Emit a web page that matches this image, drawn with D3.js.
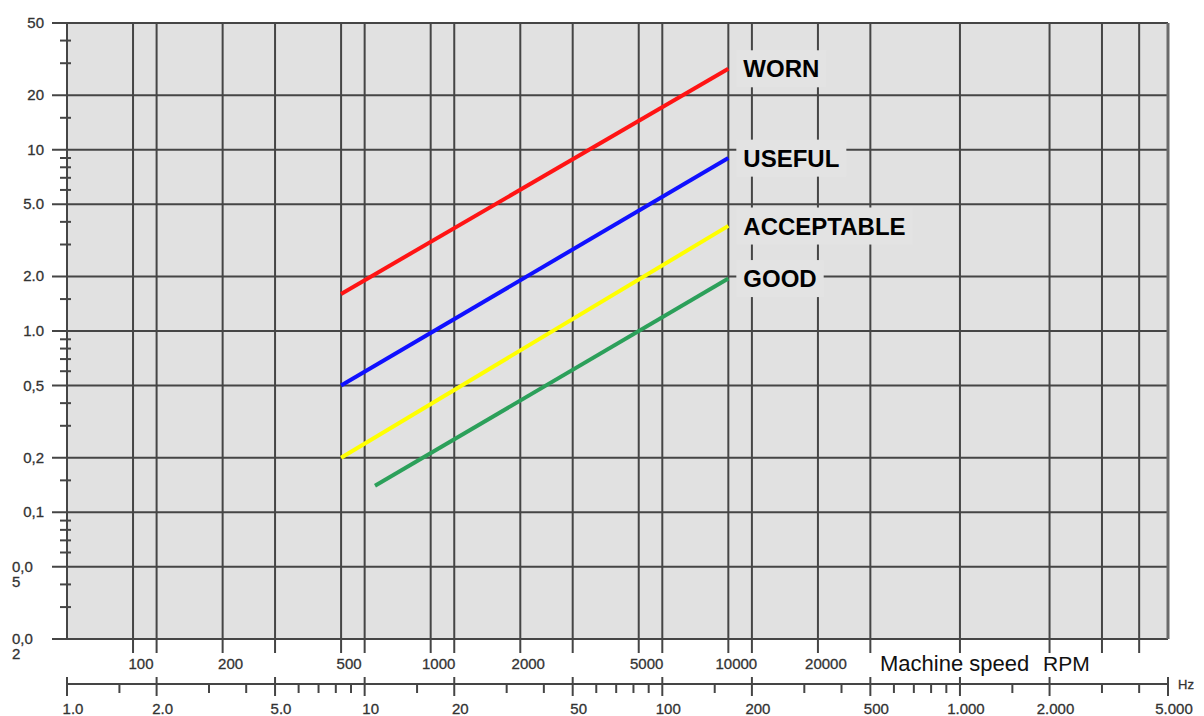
<!DOCTYPE html>
<html>
<head>
<meta charset="utf-8">
<script src="https://cdn.jsdelivr.net/npm/d3@7"></script>
<style>
  body { margin: 0; background: #fff; }
  svg { display: block; font-family: "Liberation Sans", Arial, sans-serif; }
  .grid { stroke: #454545; stroke-width: 2; fill: none; }
  .tickLabel { fill: #333; font-size: 15px; stroke: #333; stroke-width: 0.3px; }
  .minor { stroke: #454545; stroke-width: 2; }
</style>
</head>
<body>
<div id="chartContainer"></div>
<script>

// frequency axis (Hz)
var hzTicks = [1, 2, 5, 10, 20, 50, 100, 200, 500, 1000, 2000, 5000]
var hzTickLabels = ['1.0', '2.0', '5.0', '10', '20', '50', '100', '200', '500', '1.000', '2.000', '5.000']
var hzMinor = [1.5, 3, 4, 6, 7, 8, 9, 15, 30, 40, 60, 70, 80, 90, 150, 300, 400, 600, 700, 800, 900, 1500, 3000, 4000]
var hzExtraGrid = [3000, 4000]

// machine speed axis (RPM)
var rpmTicks = [100, 200, 500, 1000, 2000, 5000, 10000, 20000]

// vibration axis
var yTicks = [0.02, 0.05, 0.1, 0.2, 0.5, 1, 2, 5, 10, 20, 50]
var yTickLabels = [['0,0', '2'], ['0,0', '5'], ['0,1'], ['0,2'], ['0,5'], ['1.0'], ['2.0'], ['5.0'], ['10'], ['20'], ['50']]
var yMinor = [0.03, 0.04, 0.06, 0.07, 0.08, 0.09, 0.15, 0.3, 0.4, 0.6, 0.7, 0.8, 0.9, 1.5, 3, 4, 6, 7, 8, 9, 15, 30, 40]

// severity lines: [start, end] in RPM and value
var seriesNames = ['WORN', 'USEFUL', 'ACCEPTABLE', 'GOOD']
var seriesRpm = [[500, 10000], [500, 10000], [500, 10000], [650, 10000]]
var wornValues = [1.6, 28]
var usefulValues = [0.5, 9]
var acceptableValues = [0.2, 3.8]
var goodValues = [0.14, 1.95]
var seriesColors = ['#ff1414', '#1010ff', '#ffff00', '#2ca05a']

var seriesValues = [wornValues, usefulValues, acceptableValues, goodValues]

renderChart()

function renderChart() {
    var width = 1204, height = 716
    var plotLeft = 67, plotRight = 1168, plotTop = 23, plotBottom = 639

    var svg = d3.select('#chartContainer').append('svg')
        .attr('width', width)
        .attr('height', height)

    var xScale = d3.scaleLog()
        .domain([1, 5000])
        .range([plotLeft, plotRight])

    var yScale = d3.scaleLog()
        .domain([0.02, 50])
        .range([plotBottom, plotTop])

    function xRpm(r) { return xScale(r / 60) }

    // plot background
    svg.append('rect')
        .attr('x', plotLeft).attr('y', plotTop)
        .attr('width', plotRight - plotLeft).attr('height', plotBottom - plotTop)
        .attr('fill', '#e1e1e1')

    var gridG = svg.append('g')

    // horizontal grid, running out to the left as major ticks
    gridG.selectAll('.hgrid')
        .data(yTicks)
        .enter().append('line')
        .attr('class', 'grid')
        .attr('x1', plotLeft - 15).attr('x2', plotRight)
        .attr('y1', function(d) { return yScale(d) })
        .attr('y2', function(d) { return yScale(d) })

    // vertical grid on Hz and RPM values, running down as ticks
    var vgrid = hzTicks.slice(1, -1).concat(hzExtraGrid).concat(rpmTicks.map(function(r) { return r / 60 }))
    gridG.selectAll('.vgrid')
        .data(vgrid)
        .enter().append('line')
        .attr('class', 'grid')
        .attr('x1', function(d) { return xScale(d) })
        .attr('x2', function(d) { return xScale(d) })
        .attr('y1', plotTop).attr('y2', plotBottom + 14)

    // border
    gridG.append('line').attr('class', 'grid')
        .attr('x1', plotLeft).attr('x2', plotLeft).attr('y1', plotTop).attr('y2', plotBottom)
    gridG.append('line').attr('class', 'grid')
        .attr('x1', plotRight).attr('x2', plotRight).attr('y1', plotTop).attr('y2', plotBottom)
        .style('stroke', '#6a6a6a').style('stroke-width', 3)

    // y minor ticks
    gridG.selectAll('.yminor')
        .data(yMinor)
        .enter().append('line')
        .attr('class', 'minor')
        .attr('x1', plotLeft - 7).attr('x2', plotLeft + 4)
        .attr('y1', function(d) { return yScale(d) })
        .attr('y2', function(d) { return yScale(d) })

    // y labels
    var yLab = svg.append('g').selectAll('.ylab')
        .data(yTicks)
        .enter().append('text')
        .attr('class', 'tickLabel')
        .attr('y', function(d) { return yScale(d) + 5 })
    yLab.each(function(d, i) {
        var lines = yTickLabels[i]
        var t = d3.select(this)
        if (lines.length == 1) {
            t.attr('x', 44).attr('text-anchor', 'end').text(lines[0])
        } else {
            t.attr('text-anchor', 'start')
            lines.forEach(function(s, k) {
                t.append('tspan').attr('x', 12).attr('dy', k == 0 ? 0 : 15).text(s)
            })
        }
    })

    // RPM labels
    svg.append('g').selectAll('.rpmlab')
        .data(rpmTicks)
        .enter().append('text')
        .attr('class', 'tickLabel')
        .attr('text-anchor', 'middle')
        .attr('x', function(d) { return xRpm(d) + 8 })
        .attr('y', 669)
        .text(function(d) { return d })

    svg.append('text')
        .attr('x', 880).attr('y', 671)
        .style('font-size', '22px').style('fill', '#111')
        .text('Machine speed')
    svg.append('text')
        .attr('x', 1043).attr('y', 671)
        .style('font-size', '21px').style('fill', '#111')
        .text('RPM')

    // Hz axis
    var hzY = 684
    var hzG = svg.append('g')
    hzG.append('line').attr('class', 'grid')
        .attr('x1', plotLeft).attr('x2', plotRight).attr('y1', hzY).attr('y2', hzY)
    hzG.selectAll('.hzmajor')
        .data(hzTicks)
        .enter().append('line')
        .attr('class', 'minor')
        .attr('x1', function(d) { return xScale(d) })
        .attr('x2', function(d) { return xScale(d) })
        .attr('y1', hzY - 7).attr('y2', hzY + 12)
    hzG.selectAll('.hzminor')
        .data(hzMinor)
        .enter().append('line')
        .attr('class', 'minor')
        .attr('x1', function(d) { return xScale(d) })
        .attr('x2', function(d) { return xScale(d) })
        .attr('y1', hzY).attr('y2', hzY + 9)
    hzG.selectAll('.hzlab')
        .data(hzTicks)
        .enter().append('text')
        .attr('class', 'tickLabel')
        .attr('text-anchor', 'middle')
        .attr('x', function(d, i) { return xScale(d) + 6 })
        .attr('y', 714)
        .text(function(d, i) { return hzTickLabels[i] })
    hzG.append('text')
        .attr('class', 'tickLabel')
        .style('font-size', '13px')
        .attr('x', 1178).attr('y', 689)
        .text('Hz')

    // severity lines
    var line = d3.line()
        .x(function(d) { return xRpm(d[0]) })
        .y(function(d) { return yScale(d[1]) })

    var lineG = svg.append('g')
    seriesNames.forEach(function(name, i) {
        var pts = seriesRpm[i].map(function(r, k) { return [r, seriesValues[i][k]] })
        lineG.append('path')
            .attr('d', line(pts))
            .attr('fill', 'none')
            .attr('stroke', seriesColors[i])
            .attr('stroke-width', 4)

        var end = pts[pts.length - 1]
        var lg = svg.append('g')
        var bg = lg.append('rect')
        var t = lg.append('text')
            .attr('x', xRpm(end[0]) + 15)
            .attr('y', yScale(end[1]))
            .attr('dy', '0.36em')
            .style('font-size', '24px')
            .style('font-weight', 'bold')
            .style('fill', '#000')
            .text(name)
        var b = t.node().getBBox()
        bg.attr('x', b.x - 7).attr('y', b.y - 5)
            .attr('width', b.width + 14).attr('height', b.height + 10)
            .attr('fill', '#e3e3e3')
    })
}

</script>
</body>
</html>
